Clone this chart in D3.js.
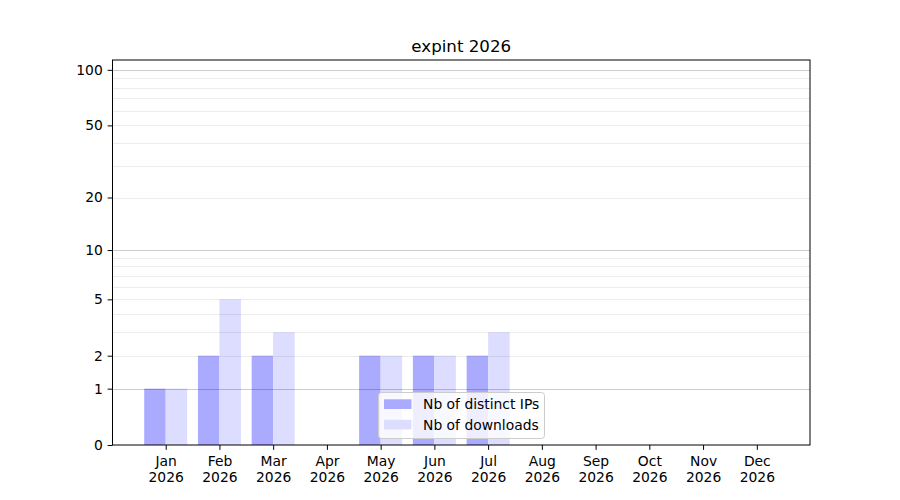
<!DOCTYPE html>
<html>
<head>
<meta charset="utf-8">
<script src="https://cdn.jsdelivr.net/npm/d3@7"></script>
<style>
  html, body { margin: 0; padding: 0; background: #fff; }
  svg { display: block; }
  text { font-family: "DejaVu Sans", sans-serif; fill: #000; }
</style>
</head>
<body>
<svg id="chart" width="900" height="500"></svg>
<script>
const title = "expint 2026";
const months = ["Jan","Feb","Mar","Apr","May","Jun","Jul","Aug","Sep","Oct","Nov","Dec"];
const yearLabel = "2026";
const ips = [1, 2, 2, 0, 2, 2, 2, 0, 0, 0, 0, 0];
const downloads = [1, 5, 3, 0, 2, 2, 3, 0, 0, 0, 0, 0];
const yTicks = [0, 1, 2, 5, 10, 20, 50, 100];
const majorGrid = [1, 10, 100];
const minorGrid = [2, 3, 4, 5, 6, 7, 8, 9, 20, 30, 40, 50, 60, 70, 80, 90];
const seriesNames = ["Nb of distinct IPs", "Nb of downloads"];
const colors = ["#aaaaff", "#ddddff"];
const yMax = 113;

const W = 900, H = 500;
const L = 112.5, R = 810, T = 60, B = 445;
const FS = "13.89px";
const svg = d3.select("#chart");

const x = d3.scaleLinear().domain([-0.99, 11.99]).range([L, R]);
const y = d3.scaleSymlog().constant(1).domain([0, yMax]).range([B, T]);
const bw = x(0.4) - x(0);

// bars
const g = svg.append("g");
g.selectAll("rect.ip").data(ips).join("rect")
  .attr("x", (d, i) => x(i - 0.4)).attr("width", bw)
  .attr("y", d => y(d)).attr("height", d => B - y(d))
  .attr("fill", colors[0]);
g.selectAll("rect.dl").data(downloads).join("rect")
  .attr("x", (d, i) => x(i)).attr("width", bw)
  .attr("y", d => y(d)).attr("height", d => B - y(d))
  .attr("fill", colors[1]);

// grid (above bars)
svg.append("g").selectAll("line").data(minorGrid).join("line")
  .attr("x1", L).attr("x2", R)
  .attr("y1", d => Math.round(y(d)) + 0.5).attr("y2", d => Math.round(y(d)) + 0.5)
  .attr("stroke", "#000").attr("stroke-opacity", 0.075).attr("stroke-width", 1);
svg.append("g").selectAll("line").data(majorGrid).join("line")
  .attr("x1", L).attr("x2", R)
  .attr("y1", d => Math.round(y(d)) + 0.5).attr("y2", d => Math.round(y(d)) + 0.5)
  .attr("stroke", "#000").attr("stroke-opacity", 0.2).attr("stroke-width", 1);

// y axis
const yAxis = d3.axisLeft(y).tickValues(yTicks).tickFormat(d3.format("d")).tickSize(4.86).tickPadding(4.86);
const ya = svg.append("g").attr("transform", `translate(${L},0)`).call(yAxis);
ya.select(".domain").remove();
ya.selectAll("text").attr("font-size", FS).attr("font-family", "DejaVu Sans");
ya.selectAll("line").attr("stroke", "#000");

// x axis
const xAxis = d3.axisBottom(x).tickValues(d3.range(months.length)).tickFormat(() => "").tickSize(4.86);
const xa = svg.append("g").attr("transform", `translate(0,${B})`).call(xAxis);
xa.select(".domain").remove();
xa.selectAll("line").attr("stroke", "#000");
xa.selectAll(".tick").each(function(d) {
  const t = d3.select(this).append("text")
    .attr("text-anchor", "middle").attr("font-size", FS).attr("fill", "#000");
  t.append("tspan").attr("x", 0).attr("y", 20.8).text(months[d]);
  t.append("tspan").attr("x", 0).attr("y", 37).text(yearLabel);
});

// spines
svg.append("rect").attr("x", L).attr("y", T).attr("width", R - L).attr("height", B - T)
  .attr("fill", "none").attr("stroke", "#000").attr("stroke-width", 1);

// title
svg.append("text").attr("x", (L + R) / 2).attr("y", 51.5).attr("text-anchor", "middle")
  .attr("font-size", "16.67px").text(title);

// legend
const lg = svg.append("g");
lg.append("rect").attr("x", 378.5).attr("y", 392.5).attr("width", 166).attr("height", 46)
  .attr("rx", 3).attr("fill", "#fff").attr("fill-opacity", 0.8)
  .attr("stroke", "#cccccc").attr("stroke-width", 1);
seriesNames.forEach((name, i) => {
  lg.append("rect").attr("x", 384).attr("y", 399.3 + i * 20.5).attr("width", 27.5).attr("height", 9.7)
    .attr("fill", colors[i]);
  lg.append("text").attr("x", 423).attr("y", 409 + i * 20.5).attr("font-size", FS).text(name);
});
</script>
</body>
</html>
